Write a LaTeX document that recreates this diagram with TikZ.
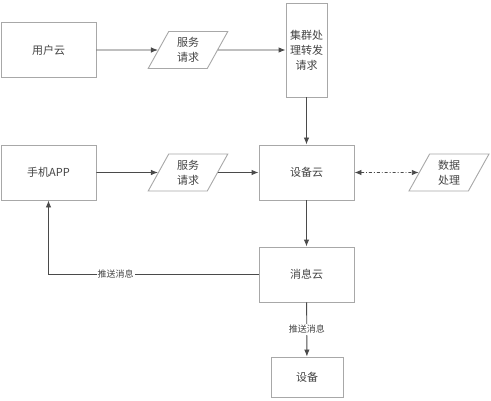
\documentclass[tikz,border=0pt]{standalone}
\usepackage{fontspec}
\newfontfamily\cjk{Noto Sans CJK SC}
\usetikzlibrary{shapes.geometric,arrows.meta}
\definecolor{boxline}{HTML}{A8A8A8}
\definecolor{conn}{HTML}{4A4A4A}
\definecolor{txt}{HTML}{444444}
\tikzset{
  base/.style={draw=boxline, line width=0.9pt, text=txt, align=center,
    font=\cjk\fontsize{11}{15}\selectfont, inner sep=0pt},
  boxnode/.style={base, rectangle, minimum width=95pt, minimum height=55pt},
  para/.style={base, trapezium, trapezium left angle=65, trapezium right angle=115,
    trapezium stretches=true, minimum width=80pt, minimum height=37pt},
  conn/.style={draw=conn, line width=0.9pt, -{Latex[length=7pt,width=5.5pt]}},
  lbl/.style={fill=white, text=txt, font=\cjk\fontsize{9}{10}\selectfont, inner sep=1pt}
}
\begin{document}
\begin{tikzpicture}[x=1pt,y=1pt]
\useasboundingbox[fill=white] (0,0) rectangle (491,400);
\node[boxnode] (yh) at (48.5,350) {用户云};
\node[para] (req1) at (188,350) {服务\\请求};
\node[base, rectangle, minimum width=41pt, minimum height=94pt] (jq) at (306.5,350) {集群处\\理转发\\请求};
\node[boxnode] (app) at (48.5,227.5) {手机APP};
\node[para] (req2) at (188,227.5) {服务\\请求};
\node[boxnode] (sb) at (306.5,227.5) {设备云};
\node[para] (sj) at (449,227.5) {数据\\处理};
\node[boxnode] (xx) at (306.5,125.5) {消息云};
\node[base, rectangle, minimum width=72pt, minimum height=40pt] (dev) at (307,23) {设备};

\draw[conn] (yh) -- (req1);
\draw[conn] (req1) -- (req1 -| jq.west);
\draw[conn] (jq) -- (sb);
\draw[conn] (app) -- (req2);
\draw[conn] (req2) -- (sb);
\draw[draw=conn, line width=0.9pt, dash dot, {Latex[length=7pt,width=5.5pt]}-{Latex[length=7pt,width=5.5pt]}] (sb) -- (sj);
\draw[conn] (sb) -- (xx);
\draw[conn] (xx.west) -| node[lbl, pos=0.34] {推送消息} (app.south);
\draw[conn] (xx) -- node[lbl] {推送消息} (dev);
\end{tikzpicture}
\end{document}
